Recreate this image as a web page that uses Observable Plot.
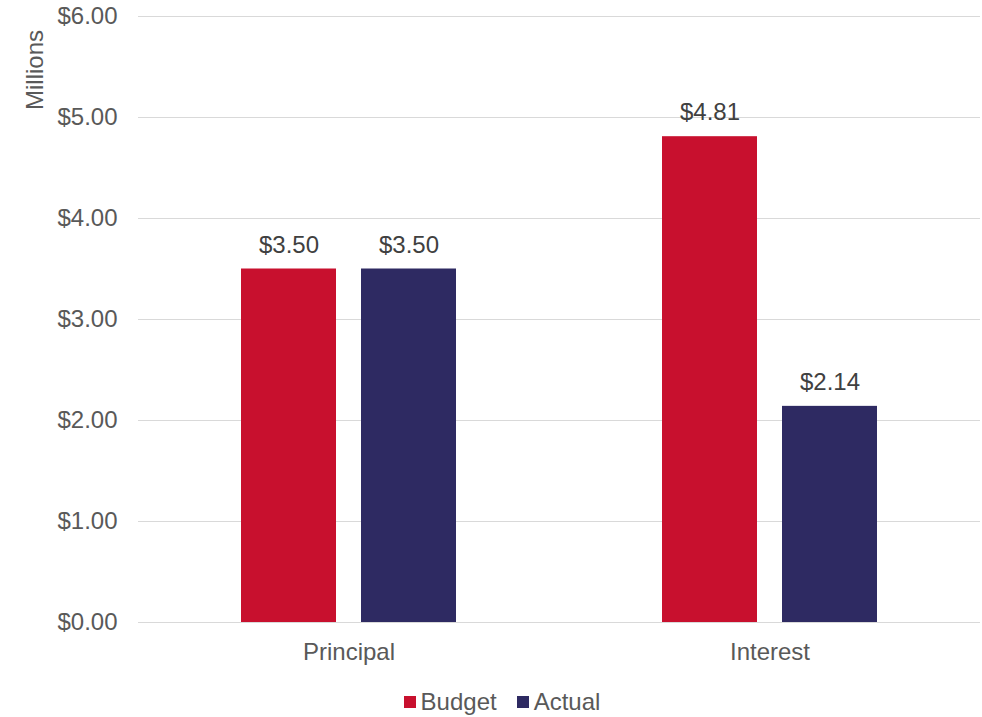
<!DOCTYPE html>
<html>
<head>
<meta charset="utf-8">
<script src="https://cdn.jsdelivr.net/npm/d3@7"></script>
<script src="https://cdn.jsdelivr.net/npm/@observablehq/plot@0.6"></script>
<style>
  body { margin: 0; background: #fff; font-family: Arial, "Liberation Sans", sans-serif; }
  #legend { display: flex; justify-content: center; align-items: center; gap: 20px; height: 44px; margin-left: 22px; font-size: 24px; color: #595959; }
  .sw { display: inline-flex; align-items: center; gap: 5px; }
  .sq { width: 12px; height: 12px; display: inline-block; }
</style>
</head>
<body>
<div id="chart"></div>
<div id="legend"></div>
<script>
const categories = ["Principal", "Interest"];
const seriesNames = ["Budget", "Actual"];
const seriesColors = ["#C8102E", "#2E2A62"];
const budgetValues = [3.50, 4.81];
const actualValues = [3.50, 2.14];
const yTicks = [0, 1, 2, 3, 4, 5, 6];

const data = [];
categories.forEach((c, i) => {
  data.push({category: c, series: "Budget", value: budgetValues[i]});
  data.push({category: c, series: "Actual", value: actualValues[i]});
});

const fmt = d => "$" + d.toFixed(2);

const plot = Plot.plot({
  width: 982,
  height: 680,
  marginLeft: 138,
  marginRight: 2,
  marginTop: 16,
  marginBottom: 58,
  style: { fontFamily: "Arial, 'Liberation Sans', sans-serif", fontSize: "24px", color: "#595959", background: "#fff" },
  fx: { domain: categories, padding: 0, label: null, tickSize: 0, tickPadding: 20 },
  x: { domain: seriesNames, paddingInner: 0.2083, paddingOuter: 0.858, axis: null },
  y: { domain: [0, 6], ticks: yTicks, tickFormat: fmt, label: null, tickSize: 0, tickPadding: 21 },
  color: { domain: seriesNames, range: seriesColors },
  marks: [
    Plot.gridY(yTicks, { stroke: "#d9d9d9", strokeOpacity: 1 }),
    Plot.barY(data, { fx: "category", x: "series", y: "value", fill: "series" }),
    Plot.text(data, { fx: "category", x: "series", y: "value", text: d => fmt(d.value), dy: -24, fill: "#404040", fontSize: 24 }),
    Plot.ruleY([0], { stroke: "#d9d9d9" })
  ]
});

d3.select(plot).append("text")
  .attr("transform", "translate(43,30) rotate(-90)")
  .attr("text-anchor", "end")
  .attr("fill", "#595959")
  .attr("font-size", 24)
  .text("Millions");

document.getElementById("chart").appendChild(plot);

const legend = document.getElementById("legend");
seriesNames.forEach((s, i) => {
  const item = document.createElement("span");
  item.className = "sw";
  const sq = document.createElement("span");
  sq.className = "sq";
  sq.style.background = seriesColors[i];
  item.appendChild(sq);
  item.appendChild(document.createTextNode(s));
  legend.appendChild(item);
});
</script>
</body>
</html>
